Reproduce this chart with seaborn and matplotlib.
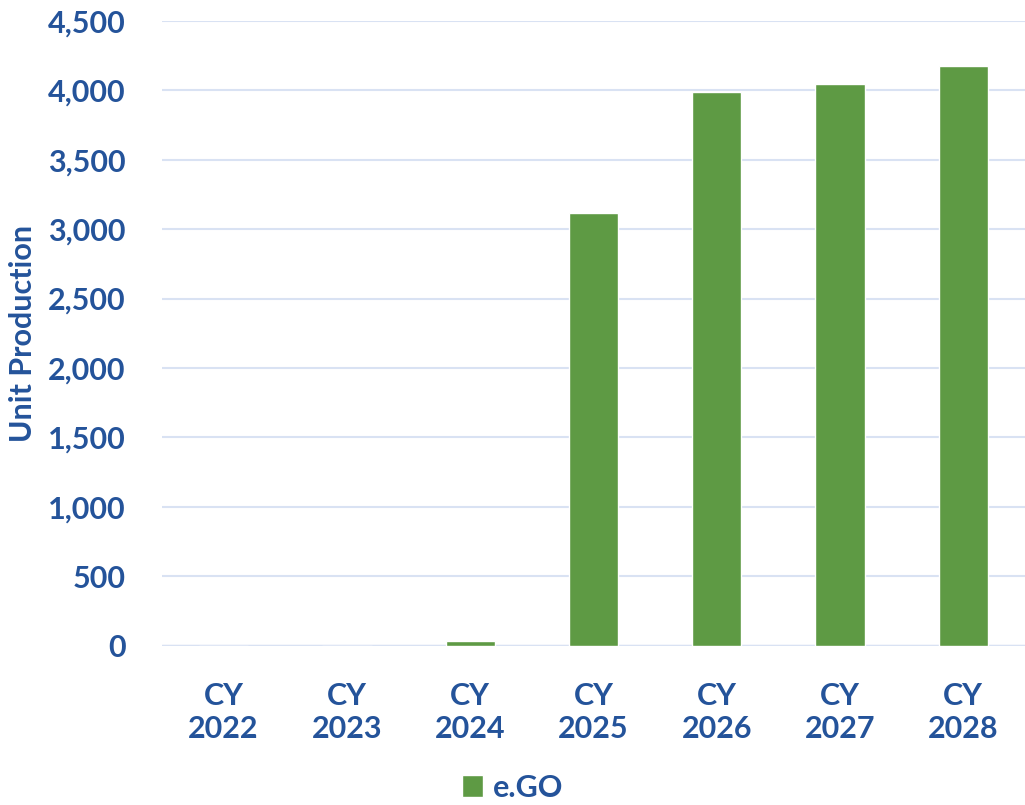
import pandas as pd
import matplotlib.pyplot as plt
import seaborn as sns
from matplotlib.ticker import FuncFormatter
from matplotlib.patches import Patch

# Data
years = ['CY\n2022', 'CY\n2023', 'CY\n2024', 'CY\n2025', 'CY\n2026', 'CY\n2027', 'CY\n2028']
units = [0, 0, 32, 3113, 3987, 4045, 4173]
series_name = 'e.GO'

df = pd.DataFrame({'year': years, 'units': units})

bar_color = '#5E9A44'
text_color = '#24539A'
grid_color = '#D9E2F3'

sns.set_theme(style='white')
plt.rcParams['font.family'] = ['Lato', 'DejaVu Sans']

fig = plt.figure(figsize=(10.25, 8.05), dpi=100)
ax = fig.add_axes([0.158, 0.198, 0.842, 0.776])

sns.barplot(data=df, x='year', y='units', color=bar_color, width=0.4,
            saturation=1, ax=ax, zorder=3)

ax.set_ylim(0, 4500)
ax.set_yticks(range(0, 4501, 500))
ax.yaxis.set_major_formatter(FuncFormatter(lambda v, p: f'{int(v):,}'))
ax.grid(axis='y', color=grid_color, linewidth=1.5, zorder=0)
ax.axhline(0, color=grid_color, linewidth=2.5, zorder=2)
for s in ax.spines.values():
    s.set_visible(False)

ax.tick_params(axis='both', length=0, labelsize=22, labelcolor=text_color)
ax.tick_params(axis='y', pad=26)
ax.tick_params(axis='x', pad=26)
for lbl in ax.get_xticklabels() + ax.get_yticklabels():
    lbl.set_fontweight('bold')
for lbl in ax.get_xticklabels():
    lbl.set_linespacing(1.25)
ax.set_xlabel('')
ax.set_ylabel('Unit Production', fontsize=22, fontweight='bold',
              color=text_color, labelpad=8)

handles = [Patch(facecolor=bar_color, label=series_name)]
leg = fig.legend(handles=handles, loc='lower center', bbox_to_anchor=(0.5, -0.03),
                 frameon=False, handlelength=0.7, handleheight=0.7,
                 handletextpad=0.3, prop={'size': 22, 'weight': 'bold'})
for t in leg.get_texts():
    t.set_color(text_color)

plt.savefig('out.png', dpi=100)
